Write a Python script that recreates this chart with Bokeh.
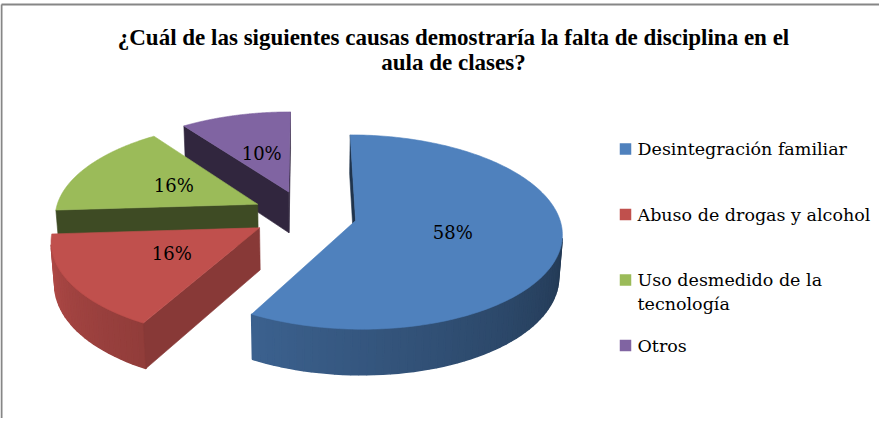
import numpy as np
from bokeh.plotting import figure
from bokeh.models import Range1d
from bokeh.core.properties import value
from bokeh.embed import file_html
from bokeh.resources import INLINE

# ---------------- data ----------------
title_lines = ["¿Cuál de las siguientes causas demostraría la falta de disciplina en el",
               "aula de clases?"]
categories = ["Desintegración familiar", "Abuso de drogas y alcohol",
              "Uso desmedido de la tecnología", "Otros"]
legend_lines = [["Desintegración familiar"], ["Abuso de drogas y alcohol"],
                ["Uso desmedido de la", "tecnología"], ["Otros"]]
values = [58, 16, 16, 10]
labels = ["58%", "16%", "16%", "10%"]

# ---------------- style ----------------
slice_colors = ["#4F81BD", "#C0504D", "#9BBB59", "#8064A2"]
cut_shade = [0.40, 0.71, 0.40, 0.38]
SERIF = "DejaVu Serif"

# 3D projection parameters (screen pixels)
CX, CY = 312.0, 222.0
S = 203.0
PHI = np.radians(27.7)
K = 0.132
DEPTH = 0.235
EXPLODE = 0.258
LABEL_R = 0.48


def proj(x, y, z):
    x = np.asarray(x, float); y = np.asarray(y, float); z = np.asarray(z, float)
    yc = y * np.cos(PHI) + z * np.sin(PHI)
    zc = z * np.cos(PHI) - y * np.sin(PHI)
    w = 1.0 / (1.0 + K * zc)
    return CX + S * x * w, CY - S * yc * w


CAM = np.array([0.0, np.sin(PHI) / K, -np.cos(PHI) / K])


def visible(nx, nz, px, py, pz):
    return nx * (CAM[0] - px) + nz * (CAM[2] - pz) > 0


def shade(hexcol, f):
    h = hexcol.lstrip("#")
    r, g, b = (int(h[i:i + 2], 16) for i in (0, 2, 4))
    return "#%02x%02x%02x" % tuple(max(0, min(255, int(round(c * f)))) for c in (r, g, b))


p = figure(width=879, height=418, x_range=Range1d(8, 887), y_range=Range1d(426, 8),
           output_backend="svg", toolbar_location=None, min_border=0,
           x_axis_location=None, y_axis_location=None)
p.grid.visible = False
p.outline_line_color = None
p.background_fill_color = "white"
p.border_fill_color = "white"

# chart border (top and left edges visible)
p.segment(x0=[9, 9], y0=[12, 12], x1=[887, 9], y1=[12, 426], line_color="#868686", line_width=2)

total = float(sum(values))
starts = np.cumsum([0] + values[:-1]) / total * 360.0
ends = np.cumsum(values) / total * 360.0

slices = []
for i, v in enumerate(values):
    a0, a1 = starts[i], ends[i]
    m = np.radians((a0 + a1) / 2)
    ox, oz = EXPLODE * np.sin(m), EXPLODE * np.cos(m)
    slices.append((i, a0, a1, m, ox, oz))

order = sorted(slices, key=lambda s: -s[5])

for (i, a0, a1, m, ox, oz) in order:
    col = slice_colors[i]
    xs_list, ys_list, cols = [], [], []
    # curved outer side
    angs = np.linspace(a0, a1, max(3, int((a1 - a0) / 2) + 1))
    for j in range(len(angs) - 1):
        am = np.radians((angs[j] + angs[j + 1]) / 2)
        if not visible(np.sin(am), np.cos(am), ox + np.sin(am), 0, oz + np.cos(am)):
            continue
        aa = np.radians([angs[j], angs[j + 1]])
        tx, ty = proj(ox + np.sin(aa), [0, 0], oz + np.cos(aa))
        bx, by = proj(ox + np.sin(aa), [-DEPTH, -DEPTH], oz + np.cos(aa))
        xs_list.append([tx[0], tx[1], bx[1], bx[0]])
        ys_list.append([ty[0], ty[1], by[1], by[0]])
        f = float(np.clip(0.41 + 0.0029 * ((angs[j] + angs[j + 1]) / 2 - 90), 0.35, 0.9))
        cols.append(shade(col, f))
    if xs_list:
        p.patches(xs_list, ys_list, fill_color=cols, line_color=cols, line_width=1.6)
    # radial cut faces
    for ang, nang in ((a0, a0 - 90), (a1, a1 + 90)):
        ar, nr = np.radians(ang), np.radians(nang)
        cxp, czp = ox + 0.5 * np.sin(ar), oz + 0.5 * np.cos(ar)
        if not visible(np.sin(nr), np.cos(nr), cxp, -DEPTH / 2, czp):
            continue
        px_ = [ox, ox + np.sin(ar), ox + np.sin(ar), ox]
        py_ = [0, 0, -DEPTH, -DEPTH]
        pz_ = [oz, oz + np.cos(ar), oz + np.cos(ar), oz]
        fx, fy = proj(px_, py_, pz_)
        c2 = shade(col, cut_shade[i])
        p.patch(list(fx), list(fy), fill_color=c2, line_color=c2, line_width=0.6)
    # top face
    aa = np.radians(np.linspace(a0, a1, 200))
    tx, ty = proj(np.concatenate([[ox], ox + np.sin(aa)]), np.zeros(len(aa) + 1),
                  np.concatenate([[oz], oz + np.cos(aa)]))
    p.patch(list(tx), list(ty), fill_color=col, line_color=col, line_width=0.6)

# data labels
lx, ly = [], []
for (i, a0, a1, m, ox, oz) in slices:
    x_, y_ = proj(ox + LABEL_R * np.sin(m), 0.0, oz + LABEL_R * np.cos(m))
    lx.append(float(x_)); ly.append(float(y_))
p.text(x=lx, y=ly, text=labels, text_font=value(SERIF), text_font_size="18px",
       text_color="black", text_align="center", text_baseline="middle")

# title
p.text(x=[461, 461], y=[45, 70], text=title_lines, text_font=value("Liberation Serif"),
       text_font_style="bold", text_font_size="23px", text_color="black",
       text_align="center", text_baseline="middle")

# legend
LEG_X, LEG_Y0, LEG_DY, LINE_DY = 633.0, 156.5, 65.5, 23.7
sq_x, sq_y, sq_c = [], [], []
tx_, ty_, tt_ = [], [], []
for i, lines in enumerate(legend_lines):
    yc = LEG_Y0 + i * LEG_DY
    sq_x.append(LEG_X); sq_y.append(yc); sq_c.append(slice_colors[i])
    for j, ln in enumerate(lines):
        tx_.append(LEG_X + 12); ty_.append(yc + j * LINE_DY); tt_.append(ln)
p.scatter(x=sq_x, y=sq_y, marker="square", size=11.5, fill_color=sq_c, line_color=None)
p.text(x=tx_, y=ty_, text=tt_, text_font=value(SERIF), text_font_size="17.5px",
       text_color="black", text_align="left", text_baseline="middle")

open("out.html", "w").write(file_html(p, INLINE))
